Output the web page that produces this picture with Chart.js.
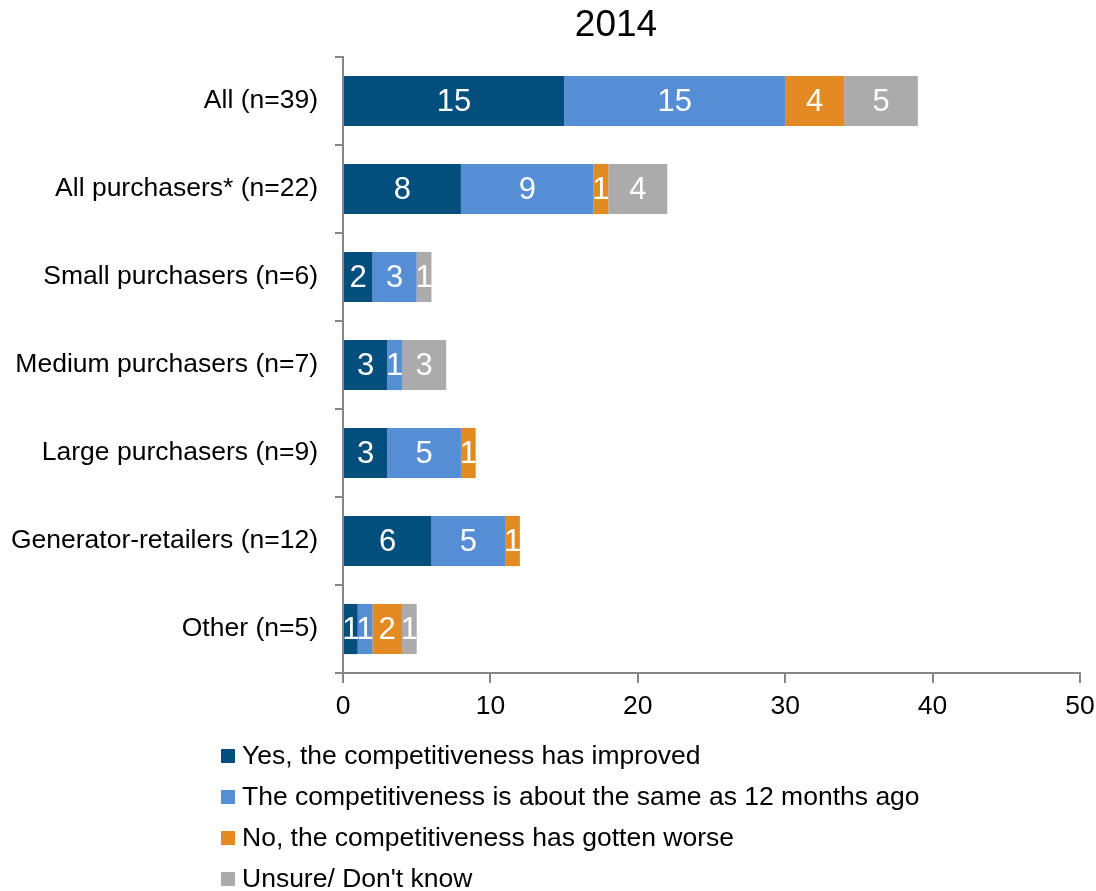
<!DOCTYPE html>
<html>
<head>
<meta charset="utf-8">
<script src="https://cdn.jsdelivr.net/npm/chart.js@4/dist/chart.umd.min.js"></script>
<style>
  html, body { margin: 0; padding: 0; background: #fff; }
  #wrap { width: 1096px; height: 891px; }
</style>
</head>
<body>
<div id="wrap"><canvas id="c" width="1096" height="891"></canvas></div>
<script>
// Survey responses by respondent group (counts)
const chartTitle = '2014';
const categories = [
  'All (n=39)',
  'All purchasers* (n=22)',
  'Small purchasers (n=6)',
  'Medium purchasers (n=7)',
  'Large purchasers (n=9)',
  'Generator-retailers (n=12)',
  'Other (n=5)'
];
const seriesNames = [
  'Yes, the competitiveness has improved',
  'The competitiveness is about the same as 12 months ago',
  'No, the competitiveness has gotten worse',
  'Unsure/ Don\'t know'
];
const improved = [15, 8, 2, 3, 3, 6, 1];
const same     = [15, 9, 3, 1, 5, 5, 1];
const worse    = [4, 1, 0, 0, 1, 1, 2];
const unsure   = [5, 4, 1, 3, 0, 0, 1];
const xTicks   = [0, 10, 20, 30, 40, 50];

const colors = ['#024E7C', '#558ED5', '#E38A23', '#ABABAB'];
const FONT = '"Liberation Sans", Arial, sans-serif';
const AXIS = '#878787';

const seriesValues = [improved, same, worse, unsure];
const datasets = seriesNames.map((name, i) => ({
  label: name,
  data: seriesValues[i],
  backgroundColor: colors[i],
  borderWidth: 0,
  barPercentage: 0.57,
  categoryPercentage: 1.0
}));

// White value labels centred in each segment
const segmentLabels = {
  id: 'segmentLabels',
  afterDatasetsDraw(chart) {
    const ctx = chart.ctx;
    ctx.save();
    ctx.fillStyle = '#ffffff';
    ctx.font = '31px ' + FONT;
    ctx.textAlign = 'center';
    ctx.textBaseline = 'middle';
    chart.data.datasets.forEach((ds, di) => {
      const meta = chart.getDatasetMeta(di);
      meta.data.forEach((el, i) => {
        const v = ds.data[i];
        if (!v) return;
        const p = el.getProps(['x', 'y', 'base'], true);
        ctx.fillText(String(v), (p.x + p.base) / 2, p.y + 1);
      });
    });
    ctx.restore();
  }
};

// Title and a vertical legend list below the axis
const decorations = {
  id: 'decorations',
  afterDraw(chart) {
    const ctx = chart.ctx;
    ctx.save();
    ctx.fillStyle = '#000';
    ctx.font = '37px ' + FONT;
    ctx.textAlign = 'center';
    ctx.textBaseline = 'middle';
    ctx.fillText(chartTitle, 616, 26);

    ctx.font = '26.5px ' + FONT;
    ctx.textAlign = 'left';
    chart.data.datasets.forEach((ds, i) => {
      const y = 756 + i * 41;
      ctx.fillStyle = ds.backgroundColor;
      ctx.fillRect(221, y - 7, 14, 14);
      ctx.fillStyle = '#000';
      ctx.fillText(ds.label, 242, y + 1);
    });
    ctx.restore();
  }
};

new Chart(document.getElementById('c'), {
  type: 'bar',
  data: { labels: categories, datasets },
  plugins: [segmentLabels, decorations],
  options: {
    indexAxis: 'y',
    responsive: false,
    animation: false,
    layout: { padding: { top: 57, right: 16, bottom: 173, left: 0 } },
    plugins: {
      legend: { display: false },
      title: { display: false },
      tooltip: { enabled: false }
    },
    scales: {
      x: {
        type: 'linear',
        stacked: true,
        min: xTicks[0],
        max: xTicks[xTicks.length - 1],
        afterBuildTicks(scale) { scale.ticks = xTicks.map(v => ({ value: v })); },
        ticks: { color: '#000', font: { size: 26.5, family: FONT }, padding: 8 },
        grid: { drawOnChartArea: false, drawTicks: true, tickLength: 10, color: AXIS, lineWidth: 2 },
        border: { color: AXIS, width: 2 },
        afterFit(scale) {
          scale.height = 45;
          scale.paddingLeft = 0;
          scale.paddingRight = 0;
        }
      },
      y: {
        stacked: true,
        ticks: { color: '#000', font: { size: 26.5, family: FONT }, padding: 17 },
        grid: { offset: true, drawOnChartArea: false, drawTicks: true, tickLength: 8, color: AXIS, lineWidth: 2 },
        border: { color: AXIS, width: 2 },
        afterFit(scale) { scale.width = 343; }
      }
    }
  }
});
</script>
</body>
</html>
